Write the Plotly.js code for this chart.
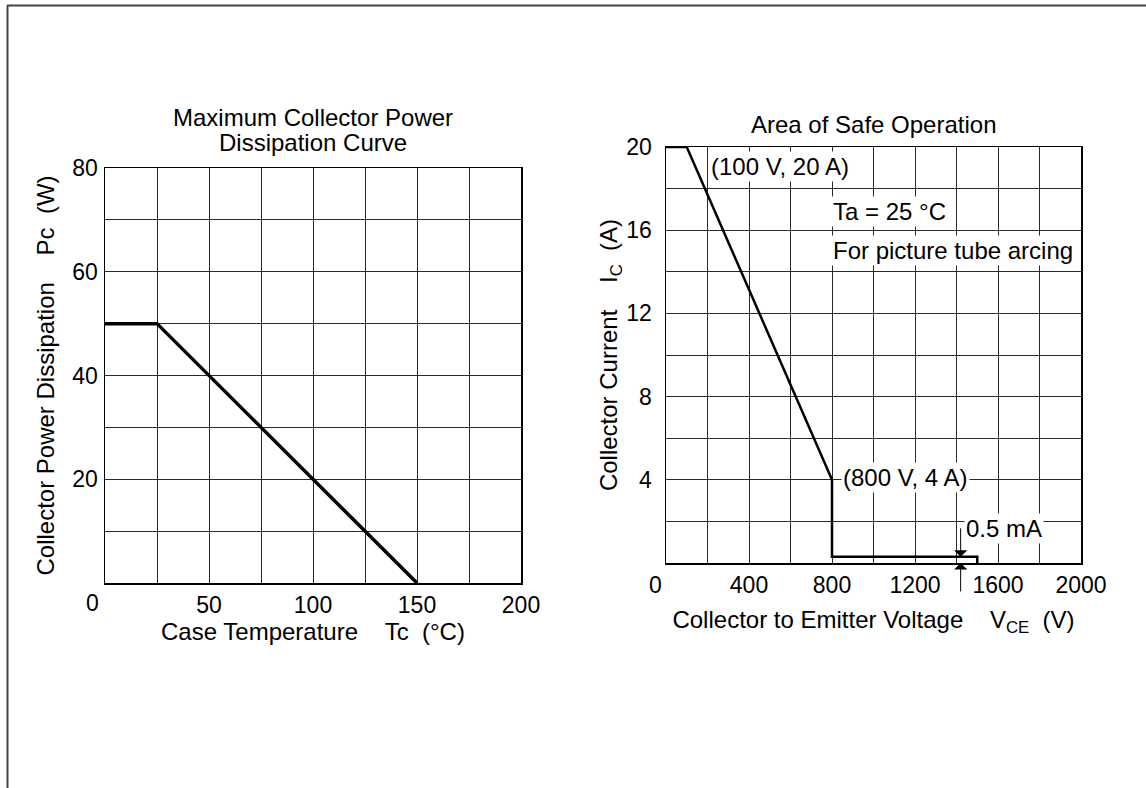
<!DOCTYPE html>
<html>
<head>
<meta charset="utf-8">
<script src="https://cdn.plot.ly/plotly-3.0.1.min.js"></script>
<style>
  html, body { margin: 0; padding: 0; background: #fff; }
  #chart { width: 1146px; height: 788px; }
</style>
</head>
<body>
<div id="chart"></div>
<script>
// ---- Data ----
const caseTemp = [0, 25, 150];           // Tc (°C)
const collectorPower = [50, 50, 0];      // Pc (W)

const vce = [0, 100, 800, 800, 1500, 1500];  // VCE (V)
const ic = [20, 20, 4, 0.3, 0.3, 0];         // IC (A) (0.5 mA step drawn schematically)

// ---- Tick labels ----
const leftXTickVals = [0, 25, 50, 75, 100, 125, 150, 175, 200];
const leftXTickText = ['', '', '50', '', '100', '', '150', '', '200'];
const leftYTickVals = [0, 10, 20, 30, 40, 50, 60, 70, 80];
const leftYTickText = ['', '', '20', '', '40', '', '60', '', '80'];
const rightXTickVals = [0, 200, 400, 600, 800, 1000, 1200, 1400, 1600, 1800, 2000];
const rightXTickText = ['', '', '400', '', '800', '', '1200', '', '1600', '', '2000'];
const rightYTickVals = [0, 2, 4, 6, 8, 10, 12, 14, 16, 18, 20];
const rightYTickText = ['', '', '4', '', '8', '', '12', '', '16', '', '20'];

const W = 1146, H = 788;
const FONT = 'Liberation Sans, Arial, Helvetica, sans-serif';
const INK = '#000';
const px = v => v / W;
const py = v => (H - v) / H;
const nbsp = n => '\u00A0'.repeat(n);
const f = s => ({ family: FONT, size: s, color: INK });

const axisCommon = {
  showline: true, mirror: true, linecolor: '#000', linewidth: 1.5,
  showgrid: true, gridcolor: '#2a2a2a', gridwidth: 1,
  zeroline: false, ticks: '', automargin: false, fixedrange: true,
  tickfont: f(23),
  tickmode: 'array'
};

const traces = [
  { x: caseTemp, y: collectorPower, xaxis: 'x', yaxis: 'y', mode: 'lines',
    line: { color: '#000', width: 3.5 }, hoverinfo: 'skip', showlegend: false },
  { x: vce, y: ic, xaxis: 'x2', yaxis: 'y2', mode: 'lines',
    line: { color: '#000', width: 2.5 }, hoverinfo: 'skip', showlegend: false }
];

const layout = {
  width: W, height: H,
  margin: { l: 0, r: 0, t: 0, b: 0 },
  paper_bgcolor: '#fff', plot_bgcolor: '#fff',
  font: f(23),
  showlegend: false,
  xaxis: Object.assign({}, axisCommon, {
    domain: [px(105), px(521)], range: [0, 200], anchor: 'y',
    tickvals: leftXTickVals, ticktext: leftXTickText, ticklabelstandoff: 1,
    title: { text: 'Case Temperature' + nbsp(4) + 'Tc' + nbsp(2) + '(°C)', font: f(24), standoff: 4 }
  }),
  yaxis: Object.assign({}, axisCommon, {
    domain: [py(583), py(168)], range: [0, 80], anchor: 'x',
    tickvals: leftYTickVals, ticktext: leftYTickText, ticklabelstandoff: 1,
    title: { text: 'Collector Power Dissipation' + nbsp(4) + 'Pc' + nbsp(2) + '(W)', font: f(24), standoff: 11 }
  }),
  xaxis2: Object.assign({}, axisCommon, {
    domain: [px(666), px(1081)], range: [0, 2000], anchor: 'y2',
    tickvals: rightXTickVals, ticktext: rightXTickText, ticklabelstandoff: 1,
    title: { text: 'Collector to Emitter Voltage' + nbsp(4) + 'V<sub>CE</sub>' + nbsp(2) + '(V)', font: f(24), standoff: 14 }
  }),
  yaxis2: Object.assign({}, axisCommon, {
    domain: [py(563), py(147)], range: [0, 20], anchor: 'x2',
    tickvals: rightYTickVals, ticktext: rightYTickText, ticklabelstandoff: 8,
    title: { text: 'Collector Current' + nbsp(4) + 'I<sub>C</sub>' + nbsp(2) + '(A)', font: f(24), standoff: 0 }
  }),
  annotations: [
    { xref: 'paper', yref: 'paper', x: px(313), y: py(117), xanchor: 'center', yanchor: 'middle',
      text: 'Maximum Collector Power', showarrow: false, font: f(24) },
    { xref: 'paper', yref: 'paper', x: px(313), y: py(143), xanchor: 'center', yanchor: 'middle',
      text: 'Dissipation Curve', showarrow: false, font: f(24) },
    { xref: 'paper', yref: 'paper', x: px(873.5), y: py(125), xanchor: 'center', yanchor: 'middle',
      text: 'Area of Safe Operation', showarrow: false, font: f(24) },
    // corner zeros
    { xref: 'x', yref: 'y', x: 0, y: 0, xshift: -13, yshift: -20, xanchor: 'center', yanchor: 'middle',
      text: '0', showarrow: false, font: f(23) },
    { xref: 'x2', yref: 'y2', x: 0, y: 0, xshift: -11, yshift: -22, xanchor: 'center', yanchor: 'middle',
      text: '0', showarrow: false, font: f(23) },
    // right chart labels
    { xref: 'x2', yref: 'y2', x: 205, y: 19.05, xanchor: 'left', yanchor: 'middle',
      text: '(100 V, 20 A)', showarrow: false, bgcolor: '#fff', font: f(24) },
    { xref: 'x2', yref: 'y2', x: 795, y: 16.9, xanchor: 'left', yanchor: 'middle',
      text: 'Ta = 25 °C', showarrow: false, bgcolor: '#fff', font: f(24) },
    { xref: 'x2', yref: 'y2', x: 795, y: 15.0, xanchor: 'left', yanchor: 'middle',
      text: 'For picture tube arcing', showarrow: false, bgcolor: '#fff', font: f(24) },
    { xref: 'x2', yref: 'y2', x: 843, y: 4.1, xanchor: 'left', yanchor: 'middle',
      text: '(800 V, 4 A)', showarrow: false, bgcolor: '#fff', font: f(24) },
    { xref: 'x2', yref: 'y2', x: 1436, y: 1.65, xanchor: 'left', yanchor: 'middle',
      text: '0.5 mA', showarrow: false, bgcolor: '#fff', font: f(24) },
    // 0.5 mA arrows
    { xref: 'x2', yref: 'y2', x: 1420, y: 0.3, ax: 0, ay: -30, text: '',
      showarrow: true, arrowhead: 1, arrowsize: 2.2, arrowwidth: 1, arrowcolor: '#000' },
    { xref: 'x2', yref: 'y2', x: 1420, y: 0, ax: 0, ay: 30, text: '',
      showarrow: true, arrowhead: 1, arrowsize: 2.2, arrowwidth: 1, arrowcolor: '#000' }
  ],
  shapes: [
    { type: 'line', xref: 'paper', yref: 'paper', x0: px(7), x1: 1, y0: py(5.5), y1: py(5.5),
      line: { color: '#444', width: 2 } },
    { type: 'line', xref: 'paper', yref: 'paper', x0: px(7.5), x1: px(7.5), y0: 0, y1: py(5.5),
      line: { color: '#444', width: 2 } }
  ]
};

Plotly.newPlot('chart', traces, layout, { staticPlot: true, displayModeBar: false });
</script>
</body>
</html>
